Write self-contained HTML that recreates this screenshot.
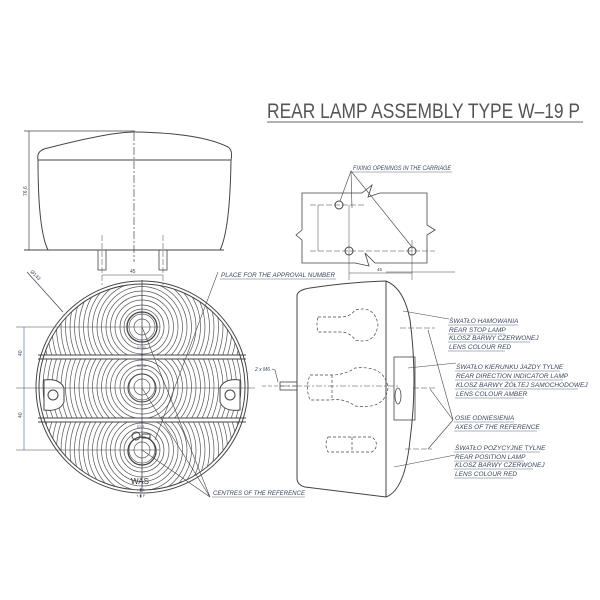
<!DOCTYPE html>
<html><head><meta charset="utf-8"><style>
html,body{margin:0;padding:0;background:#fff}
svg{display:block}
text{font-family:"Liberation Sans",sans-serif;fill:#3a4660;stroke:none !important}
.l{font-size:6.5px;font-style:italic}
</style></head><body>
<svg width="600" height="600" viewBox="0 0 600 600" xmlns="http://www.w3.org/2000/svg">
<defs>
<clipPath id="c1"><circle cx="142" cy="387" r="103"/></clipPath>
<clipPath id="b1"><rect x="0" y="0" width="300" height="355"/></clipPath>
<clipPath id="b2"><rect x="0" y="359" width="300" height="59"/></clipPath>
<clipPath id="b3"><rect x="0" y="422" width="300" height="100"/></clipPath>
</defs>
<text x="267" y="118" textLength="313" lengthAdjust="spacingAndGlyphs" style="font-size:21px;fill:#555">REAR LAMP ASSEMBLY TYPE W–19 P</text>
<g fill="none" stroke="#444" stroke-width="1">
<line x1="267" y1="122" x2="583" y2="122" stroke="#667"/>
<!-- top view -->
<path d="M38,160 Q36,150 48,148 Q110,132 135,132 Q200,133 228,147 Q233,150 231,160 Z"/>
<path d="M38,160 Q38,230 48,250 M231,160 Q230,230 220,250"/>
<line x1="24" y1="250" x2="224" y2="250"/>
<line x1="24" y1="131" x2="135" y2="131" stroke-width="0.7"/>
<line x1="29" y1="131" x2="29" y2="250" stroke-width="0.7"/>
<text x="0" y="0" transform="translate(27,196) rotate(-90)" style="font-size:5px">76,6</text>
<line x1="134" y1="133" x2="134" y2="262" stroke-dasharray="8,2,2,2" stroke-width="0.7"/>
<rect x="98" y="250" width="8" height="20" stroke-width="0.8"/>
<rect x="159" y="250" width="8" height="20" stroke-width="0.8"/>
<line x1="102" y1="235" x2="102" y2="285" stroke-dasharray="6,2" stroke-width="0.5"/>
<line x1="163" y1="235" x2="163" y2="285" stroke-dasharray="6,2" stroke-width="0.5"/>
<line x1="102" y1="275" x2="163" y2="275" stroke-width="0.6"/>
<text x="130" y="273" style="font-size:5px">45</text>
<!-- fixing openings -->
<path d="M302,193 L362,193 L372,185 L368,197 L380,193 L427,193 L427,225 L435,230 L427,235 L427,263 L375,263 L365,253 L369,266 L355,263 L302,263 L302,240 L296,235 L302,230 Z" stroke-width="0.8"/>
<circle cx="339" cy="205" r="4"/><circle cx="349" cy="251" r="4"/><circle cx="412" cy="251" r="4"/>
<line x1="310" y1="205" x2="365" y2="205" stroke-dasharray="6,2" stroke-width="0.5"/>
<line x1="310" y1="251" x2="435" y2="251" stroke-dasharray="6,2" stroke-width="0.5"/>
<line x1="349" y1="205" x2="349" y2="280" stroke-width="0.5"/>
<line x1="412" y1="240" x2="412" y2="280" stroke-width="0.5"/>
<line x1="318" y1="205" x2="318" y2="251" stroke-width="0.5"/>
<line x1="349" y1="273" x2="412" y2="273" stroke-width="0.5"/>
<text x="377" y="271" style="font-size:4.5px">45</text>
<path d="M340,201 L351,171 L412,247 M351,171 L352,208" stroke-width="0.6"/>
<text x="353" y="170" class="l" style="font-size:6px" textLength="98" lengthAdjust="spacingAndGlyphs">FIXING OPENINGS IN THE CARRIAGE</text>
<line x1="352" y1="172" x2="452" y2="172" stroke-width="0.5" stroke="#667"/>
<!-- front view -->
<circle cx="142" cy="387" r="106"/>
<circle cx="142" cy="387" r="103"/>
<g clip-path="url(#c1)" stroke-width="0.7" stroke="#555">
<g clip-path="url(#b1)">
<circle cx="142" cy="327" r="8"/><circle cx="142" cy="327" r="13"/><circle cx="142" cy="327" r="18"/><circle cx="142" cy="327" r="22"/><circle cx="142" cy="327" r="27"/><circle cx="142" cy="327" r="31.5"/><circle cx="142" cy="327" r="36"/><circle cx="142" cy="327" r="40.5"/><circle cx="142" cy="327" r="45"/><circle cx="142" cy="327" r="49.5"/><circle cx="142" cy="327" r="54"/><circle cx="142" cy="327" r="58.5"/><circle cx="142" cy="327" r="63"/><circle cx="142" cy="327" r="67.5"/><circle cx="142" cy="327" r="72"/><circle cx="142" cy="327" r="76.5"/><circle cx="142" cy="327" r="81"/><circle cx="142" cy="327" r="85.5"/><circle cx="142" cy="327" r="90"/><circle cx="142" cy="327" r="94.5"/><circle cx="142" cy="327" r="99"/><circle cx="142" cy="327" r="103.5"/><circle cx="142" cy="327" r="108"/><circle cx="142" cy="327" r="112.5"/>
</g>
<g clip-path="url(#b2)">
<circle cx="142" cy="387" r="8"/><circle cx="142" cy="387" r="13"/><circle cx="142" cy="387" r="18"/><circle cx="142" cy="387" r="22"/><circle cx="142" cy="387" r="27"/><circle cx="142" cy="387" r="31.5"/><circle cx="142" cy="387" r="36"/><circle cx="142" cy="387" r="40.5"/><circle cx="142" cy="387" r="45"/><circle cx="142" cy="387" r="49.5"/><circle cx="142" cy="387" r="54"/><circle cx="142" cy="387" r="58.5"/><circle cx="142" cy="387" r="63"/><circle cx="142" cy="387" r="67.5"/><circle cx="142" cy="387" r="72"/><circle cx="142" cy="387" r="76.5"/><circle cx="142" cy="387" r="81"/><circle cx="142" cy="387" r="85.5"/><circle cx="142" cy="387" r="90"/><circle cx="142" cy="387" r="94.5"/><circle cx="142" cy="387" r="99"/><circle cx="142" cy="387" r="103.5"/>
</g>
<g clip-path="url(#b3)">
<circle cx="142" cy="450" r="8"/><circle cx="142" cy="450" r="13"/><circle cx="142" cy="450" r="18"/><circle cx="142" cy="450" r="22"/><circle cx="142" cy="450" r="27"/><circle cx="142" cy="450" r="31.5"/><circle cx="142" cy="450" r="36"/><circle cx="142" cy="450" r="40.5"/><circle cx="142" cy="450" r="45"/><circle cx="142" cy="450" r="49.5"/><circle cx="142" cy="450" r="54"/><circle cx="142" cy="450" r="58.5"/><circle cx="142" cy="450" r="63"/><circle cx="142" cy="450" r="67.5"/><circle cx="142" cy="450" r="72"/><circle cx="142" cy="450" r="76.5"/><circle cx="142" cy="450" r="81"/><circle cx="142" cy="450" r="85.5"/><circle cx="142" cy="450" r="90"/><circle cx="142" cy="450" r="94.5"/><circle cx="142" cy="450" r="99"/><circle cx="142" cy="450" r="103.5"/><circle cx="142" cy="450" r="108"/><circle cx="142" cy="450" r="112.5"/>
</g>
</g>
<line x1="38" y1="355" x2="246" y2="355"/><line x1="38" y1="359" x2="246" y2="359"/>
<line x1="38" y1="418" x2="246" y2="418"/><line x1="38" y1="422" x2="246" y2="422"/>
<circle cx="142" cy="327" r="15" stroke-width="1.3"/>
<circle cx="142" cy="388" r="14"/>
<circle cx="142" cy="451" r="14" stroke-width="1.3"/>
<circle cx="136" cy="436" r="4"/><rect x="142" y="434" width="8" height="4"/>
<path d="M44,380 Q60,378 64,388 L64,402 Q60,412 44,410 Z" fill="#fff"/>
<circle cx="53" cy="395" r="5"/>
<path d="M240,380 Q224,378 220,388 L220,402 Q224,412 240,410 Z" fill="#fff"/>
<circle cx="230" cy="395" r="5"/>
<line x1="142" y1="280" x2="142" y2="492" stroke="#335" stroke-width="0.7"/>
<line x1="16" y1="327" x2="160" y2="327" stroke-width="0.6"/>
<line x1="16" y1="388" x2="255" y2="388" stroke-width="0.6"/>
<line x1="16" y1="450" x2="160" y2="450" stroke-width="0.6"/>
<line x1="24" y1="327" x2="24" y2="450" stroke="#36a" stroke-width="0.6"/>
<text transform="translate(22,356) rotate(-90)" style="font-size:5px">40</text>
<text transform="translate(22,418) rotate(-90)" style="font-size:5px">40</text>
<path d="M27,272 L63,312" stroke-width="0.7"/>
<text transform="translate(30,272) rotate(45)" style="font-size:5px">Ø143</text>
<path d="M218,272 L155,440" stroke-width="0.6"/>
<path d="M142,388 L210,497 M142,327 L210,497 M142,450 L210,497" stroke-width="0.6"/>
<text x="221" y="277" class="l" textLength="114" lengthAdjust="spacingAndGlyphs">PLACE FOR THE APPROVAL NUMBER</text>
<line x1="220" y1="279" x2="336" y2="279" stroke-width="0.5" stroke="#667"/>
<text x="213" y="495" class="l" textLength="92" lengthAdjust="spacingAndGlyphs">CENTRES OF THE REFERENCE</text>
<line x1="212" y1="497" x2="305" y2="497" stroke-width="0.5" stroke="#667"/>
<text x="131" y="484" style="font-size:8px;fill:#333">WAS</text>
<text x="137" y="491" style="font-size:4px">▪ ▮ L</text>
<text x="137" y="497" style="font-size:4px">▪ ▮ F</text>
<text x="137" y="349" style="font-size:3.5px">02 33</text>
<text x="137" y="367" style="font-size:3.5px">00 2A</text>
<text x="137" y="428" style="font-size:3.5px">02 R</text>
<!-- side view -->
<text x="255" y="371" style="font-size:5px" class="l">2 x M6</text>
<path d="M272,369 L275,370 L278,382" stroke-width="0.6"/>
<line x1="262" y1="386" x2="300" y2="386" stroke-dasharray="4,2" stroke-width="0.5"/>
<rect x="280" y="382" width="17" height="8" stroke-width="0.8"/>
<path d="M297,296 Q297,290 310,288 Q350,282 386,281 Q404,288 410,320 Q418,380 410,440 Q405,490 386,497 Q330,490 305,487 Q297,485 297,478 Z"/>
<line x1="386" y1="281" x2="386" y2="497"/>
<rect x="394" y="357" width="21" height="63" stroke-width="0.8"/>
<ellipse cx="398" cy="396" rx="3" ry="8" stroke-width="0.8"/>
<g stroke-dasharray="3,2" stroke-width="0.7">
<path d="M318,317 L340,317 Q350,317 355,310 Q375,305 378,325 Q375,345 355,340 Q350,332 340,332 L318,332 Q316,325 318,317 Z"/>
<path d="M310,375 L330,375 Q345,375 355,368 Q385,365 388,388 Q385,410 355,406 Q345,398 330,400 L310,400 Q305,388 310,375 Z"/>
<line x1="332" y1="375" x2="332" y2="400"/>
<path d="M328,437 L372,437 Q381,445 372,452 L328,452 Q324,445 328,437 Z"/>
<line x1="352" y1="437" x2="352" y2="452"/>
</g>
<line x1="280" y1="386" x2="400" y2="386" stroke-dasharray="6,2,2,2" stroke-width="0.5"/>
<line x1="400" y1="328" x2="435" y2="328" stroke-dasharray="6,2" stroke-width="0.5"/>
<line x1="413" y1="388" x2="435" y2="388" stroke-dasharray="6,2" stroke-width="0.5"/>
<line x1="405" y1="449" x2="432" y2="449" stroke-dasharray="6,2" stroke-width="0.5"/>
<path d="M403,311 L449,319 M408,368 L456,363 M394,467 L455,455 M428,330 L453,420 M430,389 L453,420 M428,449 L453,420" stroke-width="0.6"/>
<line x1="386" y1="272" x2="455" y2="272" stroke-width="0.5"/>
</g>
<g>
<text x="449" y="323" class="l">ŚWATŁO  HAMOWANIA</text>
<text x="449" y="332" class="l">REAR STOP LAMP</text>
<text x="449" y="340" class="l">KLOSZ BARWY CZERWONEJ</text>
<text x="449" y="349" class="l">LENS COLOUR RED</text>
<text x="456" y="369" class="l">ŚWATŁO KIERUNKU JAZDY TYLNE</text>
<text x="456" y="378" class="l">REAR DIRECTION INDICATOR LAMP</text>
<text x="456" y="387" class="l">KLOSZ BARWY ŻÓŁTEJ SAMOCHODOWEJ</text>
<text x="456" y="396" class="l">LENS COLOUR AMBER</text>
<text x="455" y="420" class="l">OSIE ODNIESIENIA</text>
<text x="455" y="429" class="l">AXES OF THE REFERENCE</text>
<text x="455" y="450" class="l">ŚWATŁO POZYCYJNE TYLNE</text>
<text x="455" y="459" class="l">REAR POSITION LAMP</text>
<text x="455" y="467" class="l">KLOSZ BARWY CZERWONEJ</text>
<text x="455" y="476" class="l">LENS COLOUR RED</text>
</g>
<g stroke="#667" stroke-width="0.5">
<line x1="448" y1="325" x2="518" y2="325"/><line x1="448" y1="334" x2="505" y2="334"/><line x1="448" y1="342" x2="530" y2="342"/><line x1="448" y1="351" x2="505" y2="351"/>
<line x1="455" y1="371" x2="560" y2="371"/><line x1="455" y1="380" x2="563" y2="380"/><line x1="455" y1="389" x2="578" y2="389"/><line x1="455" y1="398" x2="524" y2="398"/>
<line x1="454" y1="422" x2="514" y2="422"/><line x1="454" y1="431" x2="537" y2="431"/>
<line x1="454" y1="452" x2="540" y2="452"/><line x1="454" y1="461" x2="524" y2="461"/><line x1="454" y1="469" x2="533" y2="469"/><line x1="454" y1="478" x2="513" y2="478"/>
</g>
</svg>
</body></html>
